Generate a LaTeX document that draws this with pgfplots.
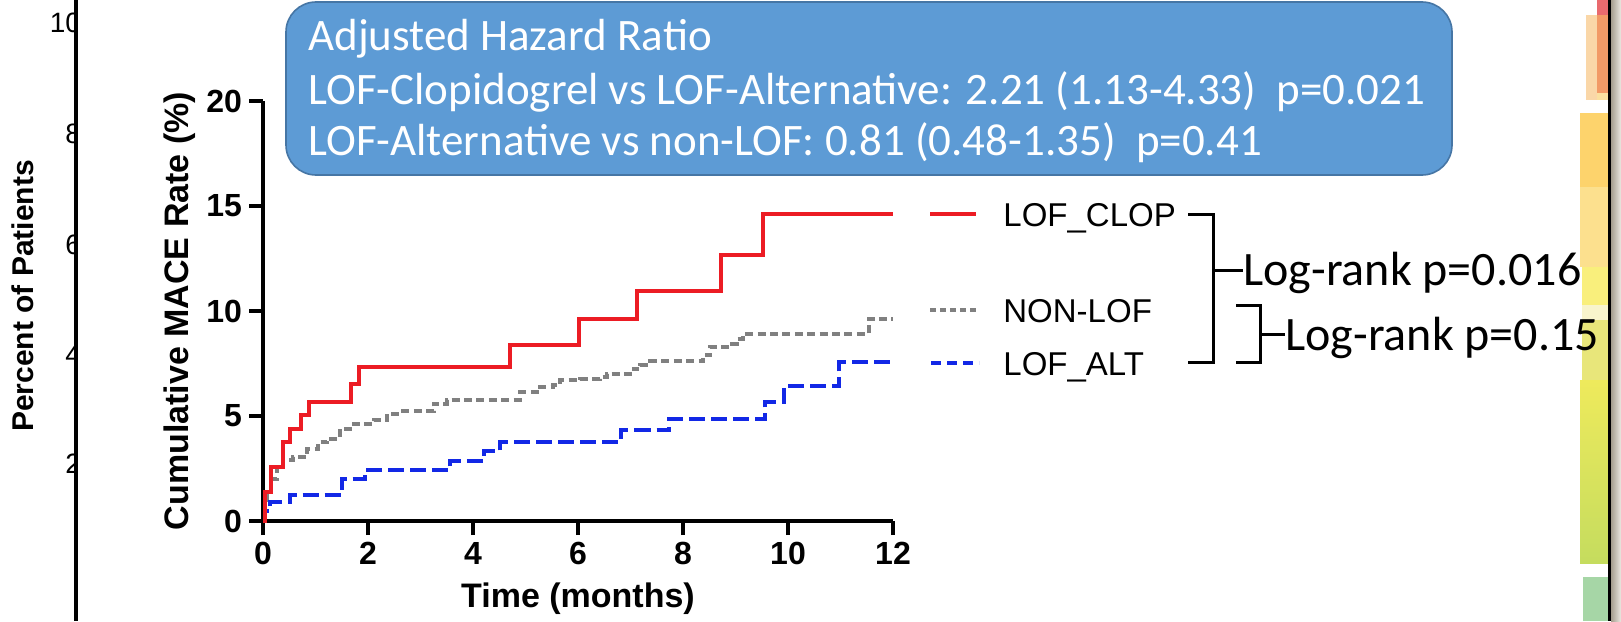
\documentclass[border=0pt]{standalone}
\usepackage{fontspec}
\setmainfont{Liberation Sans}
\newfontfamily\calib{Carlito}
\usepackage{pgfplots}
\pgfplotsset{compat=1.18}
\definecolor{boxblue}{RGB}{93,155,213}
\definecolor{boxedge}{RGB}{70,118,165}
\definecolor{kmred}{RGB}{236,28,36}
\definecolor{kmgray}{RGB}{128,128,128}
\definecolor{kmblue}{RGB}{18,40,230}
\definecolor{s1}{HTML}{E96A6E}
\definecolor{s2}{HTML}{FAD7A8}
\definecolor{s3}{HTML}{F29A66}
\definecolor{s4}{HTML}{FBE0A0}
\definecolor{s5}{HTML}{FDD36C}
\definecolor{s6}{HTML}{FCE08E}
\definecolor{s7}{HTML}{F9EF7C}
\definecolor{s8}{HTML}{F8F4CC}
\definecolor{s9}{HTML}{E8E67A}
\definecolor{s10}{HTML}{EEEA5C}
\definecolor{s11}{HTML}{C5DC5E}
\definecolor{s12}{HTML}{A6D6A6}
\definecolor{shadowA}{RGB}{165,158,142}
\definecolor{shadowB}{RGB}{236,233,226}
\newcommand\fs[1]{\fontsize{#1}{#1}\selectfont}
\begin{document}
\begin{tikzpicture}[x=0.5pt,y=-0.5pt]
\path[use as bounding box] (0,0) rectangle (1621,621);
\fill[white] (0,0) rectangle (1621,621);
% remnants of the chart behind
\begin{scope}
\clip (0,0) rectangle (75,621);
\foreach \v/\yy in {100/23,80/134,60/245,40/355,20/464,0/574}
  \node[anchor=east, inner sep=0, font=\fs{14}] at (97,\yy) {\v};
\end{scope}
\node[rotate=90, inner sep=0, font=\fs{15}\bfseries] at (23,296) {Percent of Patients};
\draw[line width=2pt] (76,0) -- (76,621);
% coloured strip on the right
\fill[s1] (1597,0) rectangle (1608,15);
\fill[s2] (1586,15) rectangle (1597,100);
\fill[s3] (1597,15) rectangle (1608,93);
\fill[s4] (1597,93) rectangle (1608,100);
\fill[s5] (1580,113) rectangle (1608,187);
\fill[s6] (1580,187) rectangle (1608,267);
\fill[s7] (1582,267) rectangle (1608,305);
\fill[s8] (1582,305) rectangle (1608,320);
\fill[s9] (1582,320) rectangle (1608,380);
\shade[top color=s10, bottom color=s11] (1580,380) rectangle (1608,563);
\fill[s12] (1583,577) rectangle (1608,621);
\fill[black] (1608,0) rectangle (1611,621);
\shade[left color=shadowA, right color=shadowB] (1611,0) rectangle (1621,621);
% hazard ratio box
\draw[boxedge, line width=0.8pt, fill=boxblue, rounded corners=15pt] (286,2) rectangle (1452,175);
\begin{scope}[every node/.style={anchor=base west, inner sep=0, text=white, font=\calib\fs{22.5}}]
\node at (308,50) {Adjusted Hazard Ratio};
\node at (308,104) {LOF-Clopidogrel vs LOF-Alternative: 2.21 (1.13-4.33) \ p=0.021};
\node at (308,155) {LOF-Alternative vs non-LOF: 0.81 (0.48-1.35) \ p=0.41};
\end{scope}
% main axis
\begin{axis}[
  at={(131.5pt,-260.5pt)}, anchor=south west,
  scale only axis, width=315pt, height=210pt,
  xmin=0, xmax=12, ymin=0, ymax=20,
  axis x line=bottom, axis y line=left,
  axis line style={-, line width=1.6pt},
  xtick={0,2,...,12}, ytick={0,5,...,20},
  tick align=outside, major tick length=7pt,
  tick style={line width=1.6pt, black},
  /pgf/number format/assume math mode=true,
  ticklabel style={font=\fs{16}\bfseries},
  xlabel={Time (months)}, ylabel={Cumulative MACE Rate (\%)},
  label style={font=\fs{17}\bfseries},
  xlabel style={at={(axis description cs:0.5,-0.185)}, anchor=center},
  ylabel style={at={(axis description cs:-0.132,0.5)}, anchor=center},
  clip=false,
]
\addplot[const plot, kmgray, line width=2pt, dash pattern=on 4pt off 2.2pt] coordinates {
(0,0) (0.04,1.0) (0.08,1.46) (0.15,2.0) (0.27,2.57) (0.39,2.89) (0.58,3.05) (0.84,3.45) (1.05,3.75) (1.22,3.92) (1.47,4.40) (1.73,4.64) (2.11,4.80) (2.36,5.11) (2.61,5.22) (3.25,5.59) (3.50,5.78) (4.90,6.14) (5.28,6.38) (5.53,6.46) (5.66,6.70) (6.04,6.75) (6.42,6.86) (6.55,7.02) (7.06,7.26) (7.19,7.45) (7.38,7.6) (8.39,7.89) (8.52,8.29) (8.84,8.45) (9.03,8.69) (9.15,8.92) (11.54,9.64) (12,9.64)};
\addplot[const plot, kmblue, line width=2pt, dash pattern=on 8pt off 3pt] coordinates {
(0,0) (0.04,0.5) (0.14,0.9) (0.51,1.26) (1.50,2.02) (1.95,2.41) (3.57,2.86) (4.20,3.32) (4.52,3.76) (6.81,4.31) (7.73,4.84) (9.57,5.67) (9.92,6.41) (10.98,7.57) (12,7.57)};
\addplot[const plot, kmred, line width=2pt] coordinates {
(0,0) (0.04,1.38) (0.15,2.57) (0.38,3.76) (0.52,4.40) (0.73,5.03) (0.87,5.67) (1.68,6.51) (1.82,7.33) (4.71,8.37) (6.01,9.62) (7.12,10.95) (8.73,12.65) (9.52,14.6) (12,14.6)};
\end{axis}
% legend
\draw[kmred, line width=1.8pt] (930,214) -- (976,214);
\draw[kmgray, line width=1.8pt, dash pattern=on 3pt off 2pt] (930,310) -- (976,310);
\draw[kmblue, line width=1.8pt, dash pattern=on 5pt off 3pt] (931,363) -- (979,363);
\begin{scope}[every node/.style={anchor=base west, inner sep=0, font=\fs{16.5}}]
\node at (1003,226) {LOF\_CLOP};
\node at (1003,322) {NON-LOF};
\node at (1003,375) {LOF\_ALT};
\end{scope}
% brackets
\draw[line width=1.5pt] (1188,214) -- (1213,214) -- (1213,362) -- (1188,362) (1213,270) -- (1243,270);
\draw[line width=1.5pt] (1236,305) -- (1260,305) -- (1260,362) -- (1236,362) (1260,334) -- (1285,334);
\node[anchor=base west, inner sep=0, font=\calib\fs{24}] at (1243,285) {Log-rank p=0.016};
\node[anchor=base west, inner sep=0, font=\calib\fs{24}] at (1285,350) {Log-rank p=0.15};
\end{tikzpicture}
\end{document}
